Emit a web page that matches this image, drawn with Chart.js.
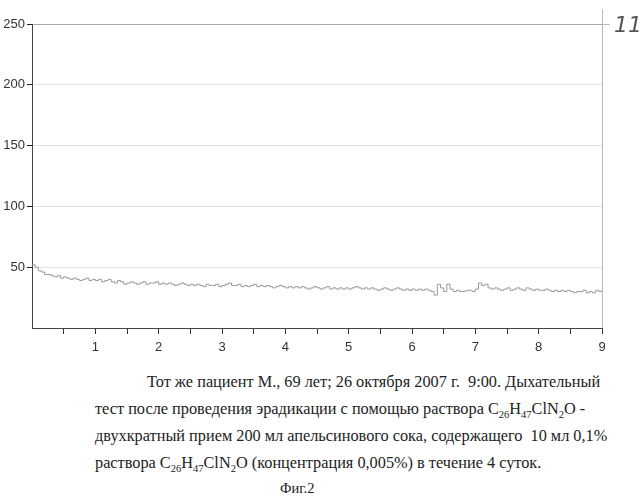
<!DOCTYPE html>
<html><head><meta charset="utf-8">
<script src="https://cdn.jsdelivr.net/npm/chart.js@4/dist/chart.umd.min.js"></script>
<style>
body{margin:0;background:#fff;width:643px;height:500px;position:relative;overflow:hidden;font-family:"Liberation Serif","DejaVu Serif",serif;}
#wrap{position:absolute;left:0;top:0;width:643px;height:360px;}
.cap{position:absolute;font-size:16.3px;color:#222;white-space:nowrap;}
sub{font-size:10.5px;}
#hw{position:absolute;left:614px;top:12px;font-family:"DejaVu Sans",sans-serif;font-size:22px;color:#555;font-style:italic;}
</style></head><body>
<div id="wrap"><canvas id="c" width="643" height="360"></canvas></div>
<div id="hw">11</div>
<div class="cap" style="left:147px;top:372px">Тот же пациент М., 69 лет; 26 октября 2007 г.&nbsp; 9:00. Дыхательный</div>
<div class="cap" style="left:95px;top:399px">тест после проведения эрадикации с помощью раствора C<sub>26</sub>H<sub>47</sub>ClN<sub>2</sub>O -</div>
<div class="cap" style="left:95px;top:426px">двухкратный прием 200 мл апельсинового сока, содержащего&nbsp; 10 мл 0,1%</div>
<div class="cap" style="left:95px;top:453px">раствора C<sub>26</sub>H<sub>47</sub>ClN<sub>2</sub>O (концентрация 0,005%) в течение 4 суток.</div>
<div class="cap" style="left:280px;top:480px;font-size:14.5px">Фиг.2</div>
<script>
const xStep = 0.05;
const yTicks = [50,100,150,200,250];
const xTicks = [1,2,3,4,5,6,7,8,9];
const values = [
52,50,47,46,44,44,43,42,43,41,42,41,40,41,40,39,40,41,39,40,39,
40,38,39,40,38,37,39,38,36,37,38,37,36,37,38,36,37,37,38,36,
37,36,37,36,35,36,37,36,35,36,35,36,35,34,36,35,35,36,34,35,
36,37,35,35,36,34,35,34,35,36,34,35,34,35,34,33,34,35,34,33,
34,33,34,33,34,33,32,33,34,33,32,33,34,32,33,32,33,32,33,32,
33,34,33,32,33,32,33,32,31,32,33,32,31,32,33,32,31,32,31,32,
31,32,31,32,31,30,27,36,33,30,36,32,30,31,30,30,31,31,30,32,
37,35,36,33,32,33,32,31,32,33,31,32,33,32,31,33,32,31,32,31,
31,32,31,30,31,30,31,30,31,30,29,30,30,31,29,30,29,31,30,31];
const pts = values.map((v,i)=>({x:i*xStep,y:v}));
const narrow = '"Liberation Sans Narrow","Liberation Sans",Arial,sans-serif';
new Chart(document.getElementById('c'),{
type:'line',
data:{datasets:[{data:pts,borderColor:'#999',borderWidth:1,pointRadius:0,tension:0,stepped:true}]},
options:{responsive:false,animation:false,
layout:{padding:{top:24,right:41,left:0,bottom:0}},
plugins:{legend:{display:false},tooltip:{enabled:false}},
scales:{
x:{type:'linear',min:0,max:9,
 afterFit(s){s.height=32;},
 afterBuildTicks(s){const t=[];for(let i=1;i<=18;i++)t.push({value:i*0.5});s.ticks=t;},
 ticks:{color:'#333',font:{family:narrow,size:13},padding:6,maxRotation:0,autoSkip:false,
  callback:v=>xTicks.includes(v)?String(v):''},
 grid:{drawOnChartArea:false,color:'#333',tickLength:6},
 border:{color:'#444',width:1}},
y:{min:0,max:250,
 afterFit(s){s.width=32;},
 afterBuildTicks(s){s.ticks=yTicks.map(v=>({value:v}));},
 ticks:{color:'#333',font:{family:narrow,size:13},padding:2},
 grid:{color:c=>c.tick&&c.tick.value===250?'#aaa':'#e2e2e2',tickColor:'#222',tickLength:5,lineWidth:1},
 border:{color:'#444',width:1}}
}},
plugins:[{id:'rb',afterDraw(ch){const a=ch.chartArea,g=ch.ctx;g.save();g.strokeStyle='#bbb';g.lineWidth=1;g.beginPath();g.moveTo(a.right+0.5,a.top-15);g.lineTo(a.right+0.5,a.bottom);g.stroke();g.beginPath();g.moveTo(a.right,a.top+0.5);g.lineTo(a.right+8,a.top+0.5);g.stroke();g.restore();}}]
});
</script></body></html>
